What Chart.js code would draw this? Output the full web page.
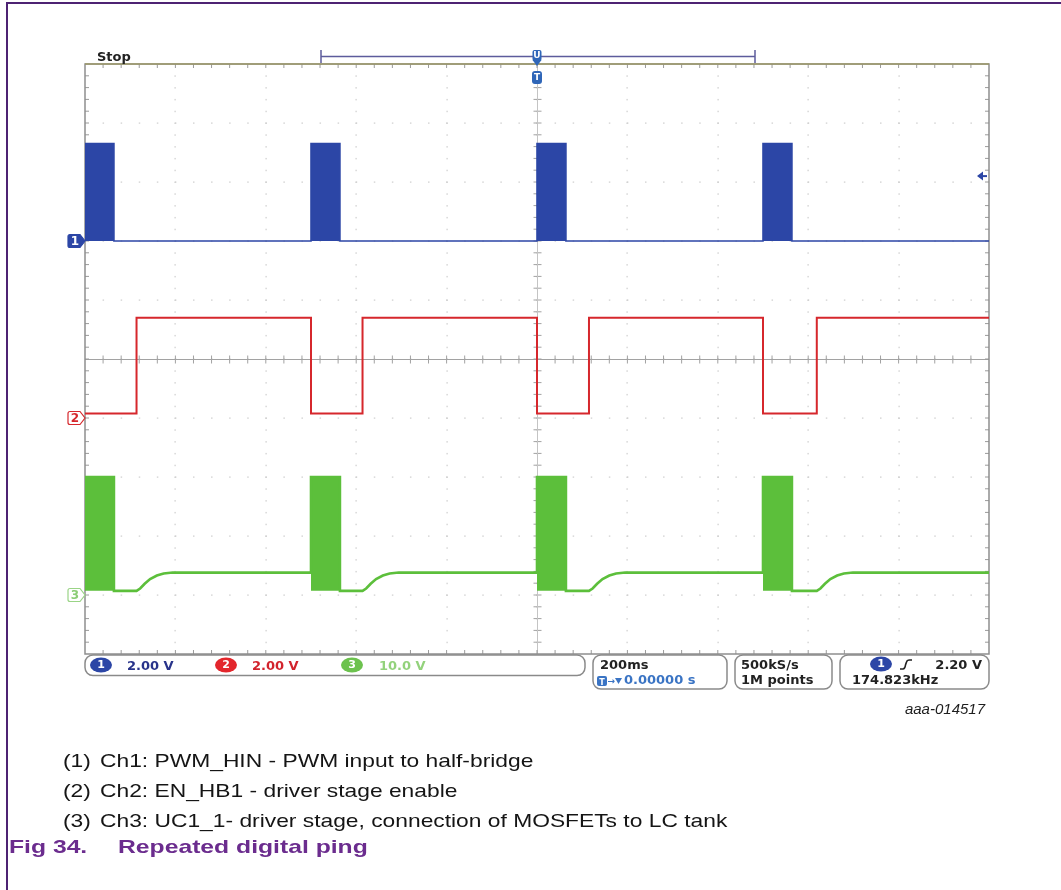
<!DOCTYPE html>
<html>
<head>
<meta charset="utf-8">
<title>Repeated digital ping</title>
<script src="https://cdn.jsdelivr.net/npm/chart.js@4.4.1/dist/chart.umd.min.js"></script>
<style>
  html, body { margin: 0; padding: 0; background: #fff; }
  #page { position: relative; width: 1061px; height: 890px; overflow: hidden; background: #fff; }
  #scope { position: absolute; left: 0; top: 0; }
  .rule-top { position: absolute; left: 6px; top: 2px; width: 1060px; height: 2px; background: #4d2373; }
  .rule-left { position: absolute; left: 6px; top: 2px; width: 2px; height: 890px; background: #4d2373; }
  .note { position: absolute; font-family: "Liberation Sans", Arial, sans-serif; font-size: 19px; color: #151515;
          white-space: nowrap; transform-origin: 0 50%; transform: scaleX(1.2); line-height: 22px; }
  .fig { position: absolute; font-family: "Liberation Sans", Arial, sans-serif; font-size: 19px; font-weight: bold;
         color: #6b2c8e; white-space: nowrap; transform-origin: 0 50%; transform: scaleX(1.3); line-height: 22px; }
</style>
</head>
<body>
<div id="page">
  <canvas id="scope" width="1061" height="890"></canvas>
  <div class="rule-top"></div>
  <div class="rule-left"></div>

  <div class="note" style="left:63px; top:750px;">(1)</div>
  <div class="note" style="left:100px; top:750px;">Ch1: PWM_HIN - PWM input to half-bridge</div>
  <div class="note" style="left:63px; top:780px;">(2)</div>
  <div class="note" style="left:100px; top:780px;">Ch2: EN_HB1 - driver stage enable</div>
  <div class="note" style="left:63px; top:810px;">(3)</div>
  <div class="note" style="left:100px; top:810px;">Ch3: UC1_1- driver stage, connection of MOSFETs to LC tank</div>
  <div class="fig" style="left:9px; top:836px;">Fig 34.</div>
  <div class="fig" style="left:118px; top:836px;">Repeated digital ping</div>
</div>

<script>
// ---- Horizontal: 200 ms/div, 10 divisions, trigger point at screen centre ----
const timeMin = -1.0;
const timeMax = 1.0;
const timePerDiv = 0.2;

// ---- Vertical: 10 divisions, centre = 0 ----
const divMin = -5;
const divMax = 5;

// Channel settings: volts per division and ground-marker position (divisions)
const ch1VoltsPerDiv = 2.0,  ch1Offset = 2;
const ch2VoltsPerDiv = 2.0,  ch2Offset = -1;
const ch3VoltsPerDiv = 10.0, ch3Offset = -4;

// Ch1 PWM_HIN (s, V): 174.8 kHz PWM bursts, drawn as filled envelopes
const ch1Time  = [-1.0, -0.936, -0.936, -0.5, -0.5, -0.436, -0.436, 0.0, 0.0, 0.064, 0.064, 0.5, 0.5, 0.564, 0.564, 1.0];
const ch1Volts = [ 3.3,  3.3,    0.0,    0.0,  3.3,  3.3,    0.0,    0.0, 3.3, 3.3,   0.0,   0.0, 3.3, 3.3,   0.0,   0.0];

// Ch2 EN_HB1 (s, V)
const ch2Time  = [-1.0, -0.886, -0.886, -0.5, -0.5, -0.386, -0.386, 0.0, 0.0, 0.115, 0.115, 0.5, 0.5, 0.619, 0.619, 1.0];
const ch2Volts = [0.15,  0.15,   3.4,    3.4,  0.15, 0.15,   3.4,    3.4, 0.15, 0.15, 3.4,   3.4, 0.15, 0.15, 3.4,   3.4];

// Ch3 UC1_1 (s, V): burst, discharge, then recovery to the bias level
const ch3Time = [
  -1.0, -0.936, -0.936, -0.886, -0.878, -0.868, -0.856, -0.841, -0.826, -0.806,
  -0.5, -0.5, -0.436, -0.436, -0.386, -0.378, -0.368, -0.356, -0.341, -0.326, -0.306,
   0.0,  0.0,  0.064,  0.064,  0.115,  0.123,  0.133,  0.145,  0.160,  0.175,  0.195,
   0.5,  0.5,  0.564,  0.564,  0.619,  0.627,  0.637,  0.649,  0.664,  0.679,  0.699,
   1.0
];
const ch3Volts = [
  20.0, 20.0, 0.7, 0.7, 1.1, 1.9, 2.7, 3.3, 3.65, 3.8,
   3.8, 20.0, 20.0, 0.7, 0.7, 1.1, 1.9, 2.7, 3.3, 3.65, 3.8,
   3.8, 20.0, 20.0, 0.7, 0.7, 1.1, 1.9, 2.7, 3.3, 3.65, 3.8,
   3.8, 20.0, 20.0, 0.7, 0.7, 1.1, 1.9, 2.7, 3.3, 3.65, 3.8,
   3.8
];
// Ch3 burst windows (start, end in s) and envelope levels (V)
const ch3BurstStart = [-1.0, -0.5, 0.0, 0.5];
const ch3BurstEnd   = [-0.936, -0.436, 0.064, 0.564];
const ch3BurstHigh  = 20.0;
const ch3BurstLow   = 0.7;

// Readouts
const chReadouts   = ['2.00 V', '2.00 V', '10.0 V'];
const timebaseText = '200ms';
const delayText    = '0.00000 s';
const sampleRate   = '500kS/s';
const recordLength = '1M points';
const triggerLevelV = 2.20;
const triggerText  = '2.20 V';
const freqText     = '174.823kHz';
const figId        = 'aaa-014517';

// ---- helpers ----
const toDiv = (v, vpd, off) => v / vpd + off;
function series(times, volts, vpd, off) {
  return times.map((t, i) => ({ x: t, y: toDiv(volts[i], vpd, off) }));
}
function burstEnvelope() {
  const pts = [];
  ch3BurstStart.forEach((s, i) => {
    const e = ch3BurstEnd[i];
    pts.push({ x: s, y: toDiv(ch3BurstLow, ch3VoltsPerDiv, ch3Offset) });
    pts.push({ x: s, y: toDiv(ch3BurstHigh, ch3VoltsPerDiv, ch3Offset) });
    pts.push({ x: e, y: toDiv(ch3BurstHigh, ch3VoltsPerDiv, ch3Offset) });
    pts.push({ x: e, y: toDiv(ch3BurstLow, ch3VoltsPerDiv, ch3Offset) });
  });
  return pts;
}

const BLUE = '#2c46a6', RED = '#d6272c', GREEN = '#5cbf3b';

// Graticule: dotted division lines, ticked centre axes, ticked frame
const graticule = {
  id: 'graticule',
  beforeDatasetsDraw(chart) {
    const { ctx, chartArea: a, scales: { x, y } } = chart;
    const nx = Math.round((timeMax - timeMin) / timePerDiv);
    const ny = divMax - divMin;
    const dx = (a.right - a.left) / nx, dy = (a.bottom - a.top) / ny;
    ctx.save();
    // dotted lines
    ctx.fillStyle = '#cdcdcd';
    for (let i = 1; i < nx; i++) {
      const px = Math.round(x.getPixelForValue(timeMin + i * timePerDiv));
      for (let k = 1; k < ny * 5; k++) ctx.fillRect(px - 0.5, a.top + k * dy / 5 - 0.5, 1.2, 1.5);
    }
    for (let j = 1; j < ny; j++) {
      const py = Math.round(y.getPixelForValue(divMin + j));
      for (let k = 1; k < nx * 5; k++) ctx.fillRect(a.left + k * dx / 5 - 0.5, py - 0.5, 1.5, 1.2);
    }
    // centre axes with minor ticks
    const cx = Math.round(x.getPixelForValue(0)) + 0.5;
    const cy = Math.round(y.getPixelForValue(0)) + 0.5;
    ctx.strokeStyle = '#a2a2a2';
    ctx.lineWidth = 1;
    ctx.beginPath();
    ctx.moveTo(a.left, cy); ctx.lineTo(a.right, cy);
    for (let k = 1; k < nx * 5; k++) { const px = a.left + k * dx / 5; ctx.moveTo(px, cy - 4); ctx.lineTo(px, cy + 4); }
    for (let k = 1; k < ny * 5; k++) { const py = a.top + k * dy / 5; ctx.moveTo(cx - 4, py); ctx.lineTo(cx + 4, py); }
    ctx.stroke();
    ctx.strokeStyle = '#c4c4c4';
    ctx.beginPath(); ctx.moveTo(cx, a.top); ctx.lineTo(cx, a.bottom); ctx.stroke();
    // frame ticks
    ctx.strokeStyle = '#9a9a9a';
    ctx.beginPath();
    for (let k = 1; k < nx * 5; k++) {
      const px = a.left + k * dx / 5;
      ctx.moveTo(px, a.top); ctx.lineTo(px, a.top + 4);
      ctx.moveTo(px, a.bottom); ctx.lineTo(px, a.bottom - 4);
    }
    for (let k = 1; k < ny * 5; k++) {
      const py = a.top + k * dy / 5;
      ctx.moveTo(a.left, py); ctx.lineTo(a.left + 4, py);
      ctx.moveTo(a.right, py); ctx.lineTo(a.right - 4, py);
    }
    ctx.stroke();
    // frame
    ctx.lineWidth = 1.5;
    ctx.strokeStyle = '#8e8e8e';
    ctx.strokeRect(a.left, a.top, a.right - a.left, a.bottom - a.top);
    ctx.strokeStyle = '#9d9868';
    ctx.beginPath(); ctx.moveTo(a.left, a.top); ctx.lineTo(a.right, a.top); ctx.stroke();
    ctx.restore();
  }
};

function badge(ctx, cx, cy, fill, txt) {
  ctx.save();
  ctx.fillStyle = fill;
  ctx.beginPath(); ctx.ellipse(cx, cy, 11, 7.5, 0, 0, Math.PI * 2); ctx.fill();
  ctx.fillStyle = '#fff';
  ctx.font = 'bold 11px "DejaVu Sans"';
  ctx.textAlign = 'center'; ctx.textBaseline = 'middle';
  ctx.fillText(txt, cx, cy + 0.5);
  ctx.restore();
}
function tag(ctx, xr, cy, fill, stroke, txt, txtColor) {
  ctx.save();
  const l = xr - 17, h = 6.5;
  ctx.beginPath();
  ctx.moveTo(l + 2, cy - h); ctx.lineTo(xr - 5, cy - h); ctx.lineTo(xr, cy);
  ctx.lineTo(xr - 5, cy + h); ctx.lineTo(l + 2, cy + h);
  ctx.quadraticCurveTo(l, cy + h, l, cy + h - 2); ctx.lineTo(l, cy - h + 2);
  ctx.quadraticCurveTo(l, cy - h, l + 2, cy - h); ctx.closePath();
  ctx.fillStyle = fill; ctx.fill();
  ctx.lineWidth = 1.2; ctx.strokeStyle = stroke; ctx.stroke();
  ctx.fillStyle = txtColor;
  ctx.font = 'bold 12px "DejaVu Sans"';
  ctx.textAlign = 'center'; ctx.textBaseline = 'middle';
  ctx.fillText(txt, l + 7, cy + 0.5);
  ctx.restore();
}
function box(ctx, l, t, r, b) {
  ctx.beginPath(); ctx.roundRect(l, t, r - l, b - t, 8);
  ctx.fillStyle = '#fff'; ctx.fill();
  ctx.lineWidth = 1.5; ctx.strokeStyle = '#8a8a8a'; ctx.stroke();
}

// Screen annotations: state, record bar, trigger markers, channel markers, readouts
const annotations = {
  id: 'annotations',
  afterDraw(chart) {
    const { ctx, chartArea: a, scales: { x, y } } = chart;
    ctx.save();
    ctx.font = 'bold 13px "DejaVu Sans"';
    ctx.fillStyle = '#222';
    ctx.textBaseline = 'alphabetic';
    ctx.fillText('Stop', 97, 61);

    // record view bar
    ctx.strokeStyle = '#5d5c9c'; ctx.lineWidth = 1.5;
    ctx.beginPath();
    ctx.moveTo(321, 56.5); ctx.lineTo(755, 56.5);
    ctx.moveTo(321, 50); ctx.lineTo(321, 63);
    ctx.moveTo(755, 50); ctx.lineTo(755, 63);
    ctx.stroke();

    // trigger position markers
    const tx = x.getPixelForValue(0);
    ctx.fillStyle = '#2f66b8';
    ctx.beginPath(); ctx.roundRect(tx - 4.5, 50, 9, 11, 2); ctx.fill();
    ctx.beginPath(); ctx.moveTo(tx - 4.5, 60); ctx.lineTo(tx + 4.5, 60); ctx.lineTo(tx, 66); ctx.closePath(); ctx.fill();
    ctx.beginPath(); ctx.roundRect(tx - 5, 71, 10, 13, 3); ctx.fill();
    ctx.fillStyle = '#fff';
    ctx.font = 'bold 9px "DejaVu Sans"'; ctx.textAlign = 'center'; ctx.textBaseline = 'middle';
    ctx.fillText('T', tx, 78);
    ctx.fillText('U', tx, 56);

    // trigger level arrow (Ch1)
    const ty = y.getPixelForValue(toDiv(triggerLevelV, ch1VoltsPerDiv, ch1Offset));
    ctx.strokeStyle = '#2c46a6'; ctx.fillStyle = '#2c46a6'; ctx.lineWidth = 2;
    ctx.beginPath(); ctx.moveTo(a.right - 10, ty); ctx.lineTo(a.right - 2, ty); ctx.stroke();
    ctx.beginPath(); ctx.moveTo(a.right - 12, ty); ctx.lineTo(a.right - 6, ty - 4.5); ctx.lineTo(a.right - 6, ty + 4.5); ctx.closePath(); ctx.fill();

    // channel ground markers
    tag(ctx, a.left, y.getPixelForValue(ch1Offset), BLUE, BLUE, '1', '#fff');
    tag(ctx, a.left, y.getPixelForValue(ch2Offset), '#fff', RED, '2', RED);
    tag(ctx, a.left, y.getPixelForValue(ch3Offset), '#fff', '#9ad486', '3', '#8ccd76');

    // readout boxes
    box(ctx, 85, 655, 585, 675.5);
    box(ctx, 593, 655, 727, 689);
    box(ctx, 735, 655, 832, 689);
    box(ctx, 840, 655, 989, 689);

    ctx.textAlign = 'left'; ctx.textBaseline = 'alphabetic';
    badge(ctx, 101, 665, '#2c46a6', '1');
    badge(ctx, 226, 665, '#e3262c', '2');
    badge(ctx, 352, 665, '#6cc24e', '3');
    ctx.font = 'bold 13px "DejaVu Sans"';
    ctx.fillStyle = '#28338a'; ctx.fillText(chReadouts[0], 127, 670);
    ctx.fillStyle = '#d2232c'; ctx.fillText(chReadouts[1], 252, 670);
    ctx.fillStyle = '#93d27c'; ctx.fillText(chReadouts[2], 379, 670);

    ctx.fillStyle = '#222';
    ctx.fillText(timebaseText, 600, 669);
    ctx.fillText(sampleRate, 741, 669);
    ctx.fillText(recordLength, 741, 684);
    ctx.fillText(freqText, 852, 684);
    ctx.textAlign = 'right';
    ctx.fillText(triggerText, 982, 669);

    // delay readout with trigger icon
    ctx.textAlign = 'left';
    ctx.fillStyle = '#3a74c4';
    ctx.beginPath(); ctx.roundRect(597, 676, 10, 10, 2); ctx.fill();
    ctx.fillStyle = '#fff'; ctx.font = 'bold 8px "DejaVu Sans"'; ctx.textAlign = 'center';
    ctx.fillText('T', 602, 684.5);
    ctx.fillStyle = '#3a74c4'; ctx.textAlign = 'left';
    ctx.font = 'bold 9px "DejaVu Sans"'; ctx.fillText('\u2192', 607.5, 684);
    ctx.beginPath(); ctx.moveTo(615, 678); ctx.lineTo(622, 678); ctx.lineTo(618.5, 684); ctx.closePath(); ctx.fill();
    ctx.font = 'bold 13px "DejaVu Sans"';
    ctx.fillText(delayText, 624, 684);

    // trigger source and slope
    badge(ctx, 881, 664, '#2c46a6', '1');
    ctx.strokeStyle = '#222'; ctx.lineWidth = 1.6;
    ctx.beginPath();
    ctx.moveTo(900, 669); ctx.lineTo(903, 669);
    ctx.quadraticCurveTo(905, 669, 905.5, 665);
    ctx.lineTo(906.5, 662); ctx.quadraticCurveTo(907, 660, 909.5, 660); ctx.lineTo(912, 660);
    ctx.stroke();

    // figure id
    ctx.fillStyle = '#1e1e1e';
    ctx.font = 'italic 15px "Liberation Sans"';
    ctx.textAlign = 'right';
    ctx.fillText(figId, 985, 714);
    ctx.restore();
  }
};

const ch3Base = toDiv(ch3BurstLow, ch3VoltsPerDiv, ch3Offset);

new Chart(document.getElementById('scope'), {
  type: 'line',
  data: {
    datasets: [
      {
        label: 'Ch2 EN_HB1',
        data: series(ch2Time, ch2Volts, ch2VoltsPerDiv, ch2Offset),
        borderColor: RED, borderWidth: 2, fill: false
      },
      {
        label: 'Ch1 PWM_HIN',
        data: series(ch1Time, ch1Volts, ch1VoltsPerDiv, ch1Offset),
        borderColor: BLUE, backgroundColor: BLUE, borderWidth: 1.6,
        fill: { value: ch1Offset }
      },
      {
        label: 'Ch3 UC1_1',
        data: series(ch3Time, ch3Volts, ch3VoltsPerDiv, ch3Offset),
        borderColor: GREEN, borderWidth: 2.6, fill: false
      },
      {
        label: 'Ch3 burst',
        data: burstEnvelope(),
        borderWidth: 0, borderColor: 'rgba(0,0,0,0)', backgroundColor: GREEN,
        fill: { value: ch3Base }
      }
    ]
  },
  options: {
    responsive: false,
    animation: false,
    events: [],
    layout: { padding: { left: 85, top: 64, right: 72, bottom: 236 } },
    elements: { point: { radius: 0 }, line: { tension: 0, borderJoinStyle: 'miter', borderCapStyle: 'butt' } },
    scales: {
      x: { type: 'linear', min: timeMin, max: timeMax, display: false },
      y: { type: 'linear', min: divMin, max: divMax, display: false }
    },
    plugins: { legend: { display: false }, tooltip: { enabled: false } }
  },
  plugins: [graticule, annotations]
});
</script>
</body>
</html>
